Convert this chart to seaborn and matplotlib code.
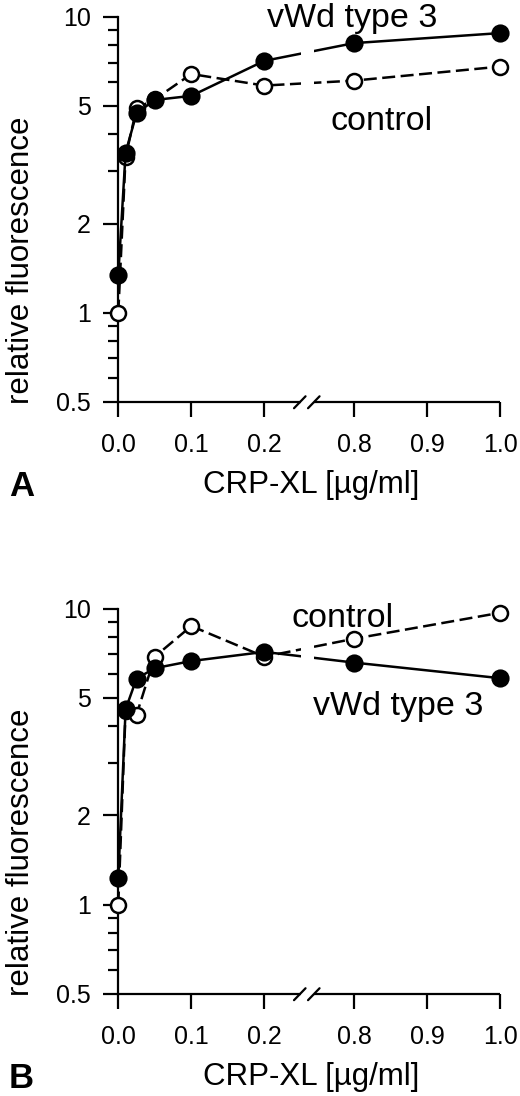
import numpy as np
import pandas as pd
import matplotlib
matplotlib.use("Agg")
import matplotlib.pyplot as plt
import seaborn as sns
from matplotlib.ticker import NullFormatter


# ---------------------------------------------------
conc = [0.0, 0.01, 0.025, 0.05, 0.1, 0.2, 0.8, 1.0]

a_vwd = [1.34, 3.47, 4.72, 5.23, 5.40, 7.09, 8.14, 8.80]
a_control = [1.0, 3.36, 4.90, 5.26, 6.40, 5.85, 6.08, 6.78]

b_vwd = [1.23, 4.57, 5.80, 6.29, 6.65, 7.14, 6.57, 5.82]
b_control = [1.0, 4.52, 4.38, 6.88, 8.73, 6.88, 7.91, 9.68]

x_ticks = [0.0, 0.1, 0.2, 0.8, 0.9, 1.0]
x_ticklabels = ["0.0", "0.1", "0.2", "0.8", "0.9", "1.0"]
y_ticks = [0.5, 1, 2, 5, 10]
y_ticklabels = ["0.5", "1", "2", "5", "10"]
y_minor = [0.6, 0.7, 0.8, 0.9, 3, 4, 6, 7, 8, 9]

# broken x axis: 0.25 .. 0.75 is squeezed out
SHIFT = 0.477
GAP = (0.2505, 0.2685)
XMAX = 1.0 - SHIFT

W, H = 520, 1096


def xpos(x):
    x = np.asarray(x, dtype=float)
    return np.where(x <= 0.25, x, x - SHIFT)


def fx(px):
    return px / W


def fy(py):
    return 1 - py / H


# ---------------------------------------------------
sns.set_style("ticks", {"axes.edgecolor": "black", "xtick.color": "black",
                        "ytick.color": "black", "text.color": "black",
                        "axes.labelcolor": "black"})
plt.rcParams['font.family'] = ['Liberation Sans', 'DejaVu Sans']


def draw_panel(ax, vwd, control, dy, vwd_pos, ctrl_pos, letter):
    df = pd.DataFrame({"x": xpos(conc), "vwd": vwd, "control": control})

    sns.lineplot(data=df, x="x", y="control", ax=ax, color="black",
                 marker="o", markersize=10.8, markerfacecolor="white",
                 markeredgecolor="black", markeredgewidth=1.8,
                 linewidth=1.8, linestyle="--", errorbar=None,
                 clip_on=False, zorder=3)
    ax.lines[-1].set_dashes([5.2, 2.2])
    sns.lineplot(data=df, x="x", y="vwd", ax=ax, color="black",
                 marker="o", markersize=11.5, markerfacecolor="black",
                 markeredgecolor="black", markeredgewidth=1.6,
                 linewidth=1.8, errorbar=None, clip_on=False, zorder=3.1)

    # gap in the data lines at the axis break
    ax.axvspan(GAP[0], GAP[1], color="white", lw=0, zorder=3.5)

    ax.set_yscale("log")
    ax.set_ylim(0.5, 10)
    ax.set_xlim(0, XMAX)
    ax.set_yticks(y_ticks)
    ax.set_yticklabels(y_ticklabels)
    ax.set_yticks(y_minor, minor=True)
    ax.yaxis.set_minor_formatter(NullFormatter())
    ax.set_xticks(xpos(x_ticks))
    ax.set_xticklabels(x_ticklabels)

    ax.tick_params(axis="both", which="major", direction="out", length=10.8,
                   width=1.6, labelsize=18)
    ax.tick_params(axis="y", which="major", pad=9)
    ax.tick_params(axis="x", which="major", pad=12)
    ax.tick_params(axis="y", which="minor", direction="out", length=7,
                   width=1.6)

    sns.despine(ax=ax)
    ax.spines["left"].set_linewidth(1.6)
    ax.spines["bottom"].set_visible(False)

    # x axis drawn in two pieces with // marks
    trans = ax.get_xaxis_transform()
    ax.plot([0, GAP[0]], [0, 0], transform=trans, color="black", lw=1.6,
            clip_on=False, zorder=2.5, solid_capstyle="butt")
    ax.plot([GAP[1], XMAX], [0, 0], transform=trans, color="black", lw=1.6,
            clip_on=False, zorder=2.5, solid_capstyle="butt")
    for x0 in (0.2407, 0.2599):
        ax.plot([x0, x0 + 0.0158], [-0.017, 0.014], transform=trans,
                color="black", lw=1.6, clip_on=False, zorder=4)

    ax.set_xlabel("CRP-XL [µg/ml]", fontsize=22.5, va="baseline")
    ax.xaxis.set_label_coords(0.5065, -0.2379)
    ax.set_ylabel("relative fluorescence", fontsize=22.5, va="center",
                  ha="center")
    ax.yaxis.set_label_coords(-0.2554, 0.368)

    fig.text(fx(vwd_pos[0]), fy(vwd_pos[1] + dy), "vWd type 3",
             fontsize=24.5, ha="left", va="baseline")
    fig.text(fx(ctrl_pos[0]), fy(ctrl_pos[1] + dy), "control",
             fontsize=24.5, ha="left", va="baseline")
    fig.text(fx(9), fy(496 + dy), letter, fontsize=25, fontweight="bold",
             ha="left", va="baseline")


# ---------------------------------------------------
fig = plt.figure(figsize=(W / 100, H / 100), dpi=100)
ax_a = fig.add_axes([0.2275, 0.6335, 0.7342, 0.3513])
ax_b = fig.add_axes([0.2275, 0.0934, 0.7342, 0.3513])

draw_panel(ax_a, a_vwd, a_control, 0, (266.7, 26.7), (331, 130), "A")
draw_panel(ax_b, b_vwd, b_control, 592, (313, 123), (291.7, 34.7), "B")

fig.savefig("out.png", dpi=100)
